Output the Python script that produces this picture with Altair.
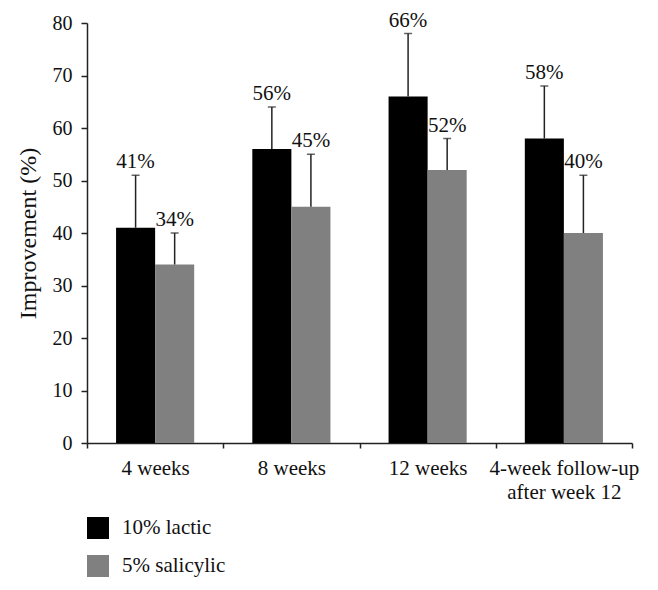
import altair as alt
import pandas as pd

categories = ["4 weeks", "8 weeks", "12 weeks", "4-week follow-up after week 12"]
series = ["10% lactic", "5% salicylic"]
lactic = [41, 56, 66, 58]
lactic_err_top = [51, 64, 78, 68]
salicylic = [34, 45, 52, 40]
salicylic_err_top = [40, 55, 58, 51]
colors = ["#000000", "#808080"]
y_ticks = [0, 10, 20, 30, 40, 50, 60, 70, 80]

rows = []
for i, c in enumerate(categories):
    rows.append({"cat": c, "grp": series[0], "v": lactic[i], "top": lactic_err_top[i],
                 "lbl": f"{lactic[i]}%"})
    rows.append({"cat": c, "grp": series[1], "v": salicylic[i], "top": salicylic_err_top[i],
                 "lbl": f"{salicylic[i]}%"})
df = pd.DataFrame(rows)

FONT = "Liberation Serif"

x_enc = alt.X("cat:N", sort=categories, title=None,
              scale=alt.Scale(paddingInner=0, paddingOuter=0),
              axis=alt.Axis(labelAngle=0, tickBand="extent", tickSize=5, labelPadding=9,
                            labelFontSize=21, labelLineHeight=24,
                            labelExpr="datum.label == '4-week follow-up after week 12' ? ['4-week follow-up', 'after week 12'] : datum.label"))
xo_enc = alt.XOffset("grp:N", sort=series,
                     scale=alt.Scale(paddingInner=0, paddingOuter=0.744))

base = alt.Chart(df)

bars = base.mark_bar().encode(
    x=x_enc,
    xOffset=xo_enc,
    y=alt.Y("v:Q", title="Improvement (%)",
            scale=alt.Scale(domain=[0, 80], nice=False),
            axis=alt.Axis(values=y_ticks, tickSize=6, labelPadding=9, labelFontSize=20,
                          titleFontSize=24, titleFontWeight="normal", titlePadding=12,
                          grid=False)),
    color=alt.Color("grp:N", sort=series, scale=alt.Scale(domain=series, range=colors),
                    legend=alt.Legend(title=None, orient="none", legendX=0, legendY=494,
                                      symbolType="square", symbolSize=484,
                                      symbolStrokeWidth=0, labelFontSize=21,
                                      labelOffset=13, rowPadding=16, padding=0,
                                      labelFont=FONT)),
)

err = base.mark_rule(color="#222222", strokeWidth=1.5).encode(
    x=alt.X("cat:N", sort=categories),
    xOffset=xo_enc,
    y="v:Q",
    y2="top:Q",
)

caps = base.mark_tick(color="#222222", thickness=1.5, size=8, orient="horizontal").encode(
    x=alt.X("cat:N", sort=categories),
    xOffset=xo_enc,
    y="top:Q",
)

labels = base.mark_text(font=FONT, fontSize=21, color="#111111", dy=-7,
                        baseline="alphabetic", align="center").encode(
    x=alt.X("cat:N", sort=categories),
    xOffset=xo_enc,
    y="top:Q",
    text="lbl:N",
)

chart = alt.layer(bars, err, caps, labels).properties(
    width=545, height=420,
    autosize=alt.AutoSizeParams(type="none"),
    padding={"left": 79, "top": 15, "right": 18, "bottom": 135},
).configure_view(stroke=None).configure_axis(
    labelFont=FONT, titleFont=FONT, labelColor="#111111", titleColor="#111111",
    domainColor="#222222", tickColor="#222222", domainWidth=1.5, tickWidth=1.5,
).configure_legend(labelColor="#111111")

chart.save("out.html", embed_options={"renderer": "svg", "actions": False})
